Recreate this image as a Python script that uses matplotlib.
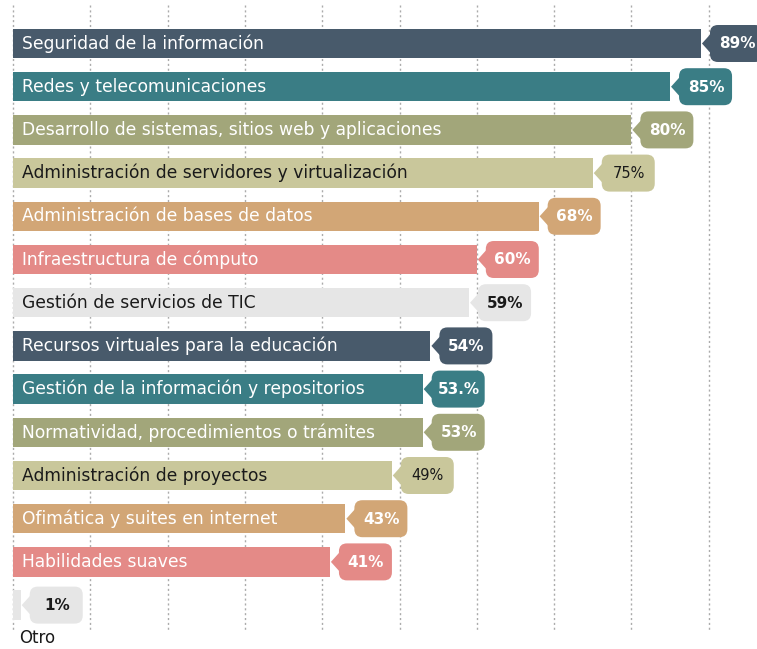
import matplotlib.pyplot as plt
import matplotlib.patches as patches
import matplotlib.transforms as mtransforms

# ----------------------- #
# Data
# ----------------------- #
categories = [
    "Seguridad de la información",
    "Redes y telecomunicaciones",
    "Desarrollo de sistemas, sitios web y aplicaciones",
    "Administración de servidores y virtualización",
    "Administración de bases de datos",
    "Infraestructura de cómputo",
    "Gestión de servicios de TIC",
    "Recursos virtuales para la educación",
    "Gestión de la información y repositorios",
    "Normatividad, procedimientos o trámites",
    "Administración de proyectos",
    "Ofimática y suites en internet",
    "Habilidades suaves",
    "Otro",
]
values = [89, 85, 80, 75, 68, 60, 59, 54, 53, 53, 49, 43, 41, 1]
value_labels = ["89%", "85%", "80%", "75%", "68%", "60%", "59%", "54%", "53.%", "53%", "49%", "43%", "41%", "1%"]

slate, teal, olive, khaki, tan, salmon, grey = "#485a6b", "#3a7d85", "#a2a67a", "#c9c79b", "#d2a676", "#e48a87", "#e6e6e6"
bar_colors = [slate, teal, olive, khaki, tan, salmon, grey, slate, teal, olive, khaki, tan, salmon, grey]
dark_text = {khaki, grey}

# ----------------------- #
# Figure
# ----------------------- #
W, H, DPI = 7.57, 6.49, 100
fig = plt.figure(figsize=(W, H), dpi=DPI)
ax = fig.add_axes([0, 0, 1, 1])
ax.set_axis_off()

px_per_unit = 7.73    # pixels per percent
x0_px = 13.0          # pixel column of 0%
row0_px, row_px = 43.5, 43.2
ax.set_xlim(-x0_px / px_per_unit, (757 - x0_px) / px_per_unit)
ax.set_ylim((649 - row0_px) / row_px, -row0_px / row_px)

# dashed grid
for g in range(0, 100, 10):
    ax.plot([g, g], [(5 - row0_px) / row_px, (632 - row0_px) / row_px],
            color="#ababab", lw=1.0, ls=(0, (1.5, 2.0)), zorder=0)

font = "DejaVu Sans"
for i, (cat, val, lab, col) in enumerate(zip(categories, values, value_labels, bar_colors)):
    ax.barh(i, val, height=0.68, color=col, zorder=2)
    tcol = "#1a1a1a" if col in dark_text else "white"

    if cat == "Otro":
        ax.text(0.8, i + 0.77, cat, color="#1a1a1a", fontsize=12, family=font,
                ha="left", va="center", zorder=3)
    else:
        ax.text(1.1, i, cat, color=tcol, fontsize=12.3, family=font,
                ha="left", va="center", zorder=3)

    # value callout: rounded box with a pointer toward the bar end (sizes in inches)
    trans = fig.dpi_scale_trans + mtransforms.ScaledTranslation(val, i, ax.transData)
    box = patches.FancyBboxPatch((0.09, -0.185), 0.53, 0.37,
                                 boxstyle="round,pad=0,rounding_size=0.08",
                                 facecolor=col, edgecolor="none", transform=trans, zorder=4)
    ax.add_patch(box)
    tip = patches.Polygon([(0.01, 0.0), (0.10, 0.10), (0.10, -0.10)], closed=True,
                          facecolor=col, edgecolor="none", transform=trans, zorder=4)
    ax.add_patch(tip)
    weight = "normal" if col == khaki else "bold"
    size = 10.5 if col == khaki else 11
    ax.text(0.36, -0.005, lab, transform=trans, ha="center", va="center",
            fontsize=size, fontweight=weight, family=font,
            color=tcol, zorder=5)

fig.savefig("out.png", dpi=DPI)
